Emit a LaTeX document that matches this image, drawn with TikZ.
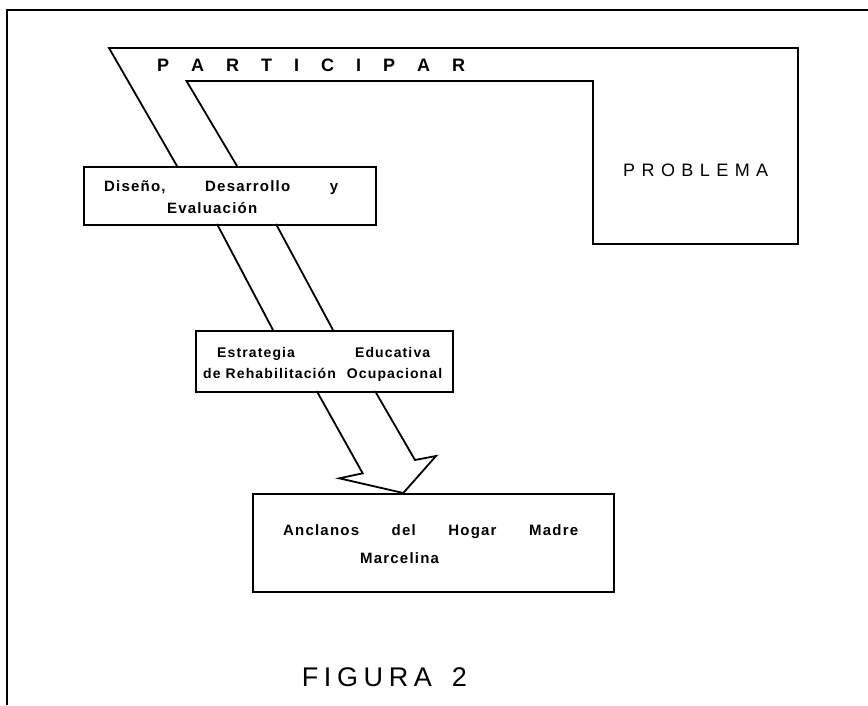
\documentclass[tikz,border=0pt]{standalone}
\usepackage{fontspec}
\setmainfont{Liberation Sans}
\newfontfamily\lettfont[LetterSpace=8]{Liberation Sans}
\begin{document}
\begin{tikzpicture}[x=1pt,y=-1pt,
  shp/.style={line width=1.8pt, line join=miter},
  frame/.style={line width=2.6pt},
  boxn/.style={draw, line width=1.8pt, inner sep=0pt, anchor=north west},
  lab/.style={inner sep=0pt, anchor=base west, font=\lettfont\bfseries\fontsize{15}{18}\selectfont},
  labs/.style={inner sep=0pt, anchor=base west, font=\lettfont\bfseries\fontsize{14}{17}\selectfont},
  big/.style={inner sep=0pt, anchor=base west, font=\bfseries\fontsize{18}{20}\selectfont},
  fig/.style={inner sep=0pt, anchor=base west, font=\fontsize{27}{30}\selectfont}]
\useasboundingbox (0,0) rectangle (868,705);
% frame
\coordinate (ftl) at (7,10);
\coordinate (ftr) at (868,10);
\coordinate (fbl) at (7,705);
\draw[frame] (ftr) -- (ftl) -- (fbl);
% boxes
\node[boxn, minimum width=292pt, minimum height=58pt] (dis) at (83,166) {};
\node[boxn, minimum width=257pt, minimum height=61pt] (est) at (195,330) {};
\node[boxn, minimum width=361pt, minimum height=98pt] (anc) at (252,493) {};
% upper shape: PARTICIPAR band and PROBLEMA box
\coordinate (u1) at (177,166);
\coordinate (u2) at (109,48);
\coordinate (u3) at (798,48);
\coordinate (u4) at (798,244);
\coordinate (u5) at (593,244);
\coordinate (u6) at (593,81);
\coordinate (u7) at (186.5,81);
\coordinate (u8) at (237,166);
\draw[shp] (u1) -- (u2) -- (u3) -- (u4) -- (u5) -- (u6) -- (u7) -- (u8);
% middle band
\coordinate (m1) at (217,224);
\coordinate (m2) at (273,330);
\coordinate (m3) at (276,224);
\coordinate (m4) at (333,330);
\draw[shp] (m1) -- (m2);
\draw[shp] (m3) -- (m4);
% bottom arrow
\coordinate (b1) at (316.7,391);
\coordinate (b2) at (362.7,473.3);
\coordinate (b3) at (339.3,478.3);
\coordinate (b4) at (403.3,493);
\coordinate (b5) at (436,456);
\coordinate (b6) at (415,460);
\coordinate (b7) at (375,391);
\draw[shp] (b1) -- (b2) -- (b3) -- (b4) -- (b5) -- (b6) -- (b7);
% texts
\node[big] (tpart) at (157,71.5) {\makebox[308pt][s]{P\hfill A\hfill R\hfill T\hfill I\hfill C\hfill I\hfill P\hfill A\hfill R}};
\node[big, font=\fontsize{18}{20}\selectfont] (tprob) at (623,176.7) {\makebox[145pt][s]{P\hfill R\hfill O\hfill B\hfill L\hfill E\hfill M\hfill A}};
\node[lab] (tdis1) at (104,191.7) {\makebox[234pt][s]{Diseño,\hfill Desarrollo\hfill y}};
\node[lab] (tdis2) at (167,213.3) {Evaluación};
\node[labs] (test1) at (217,357) {\makebox[213pt][s]{Estrategia\hfill Educativa}};
\node[labs] (test2) at (203,378) {\makebox[239pt][s]{de Rehabilitación\hfill Ocupacional}};
\node[lab] (tanc1) at (283,535) {\makebox[295pt][s]{Anclanos\hfill del\hfill Hogar\hfill Madre}};
\node[lab] (tanc2) at (360,563) {Marcelina};
\node[fig] (tfig) at (301.7,686) {\makebox[130pt][s]{F\hfill I\hfill G\hfill U\hfill R\hfill A}\hspace{20pt}2};
\end{tikzpicture}
\end{document}
